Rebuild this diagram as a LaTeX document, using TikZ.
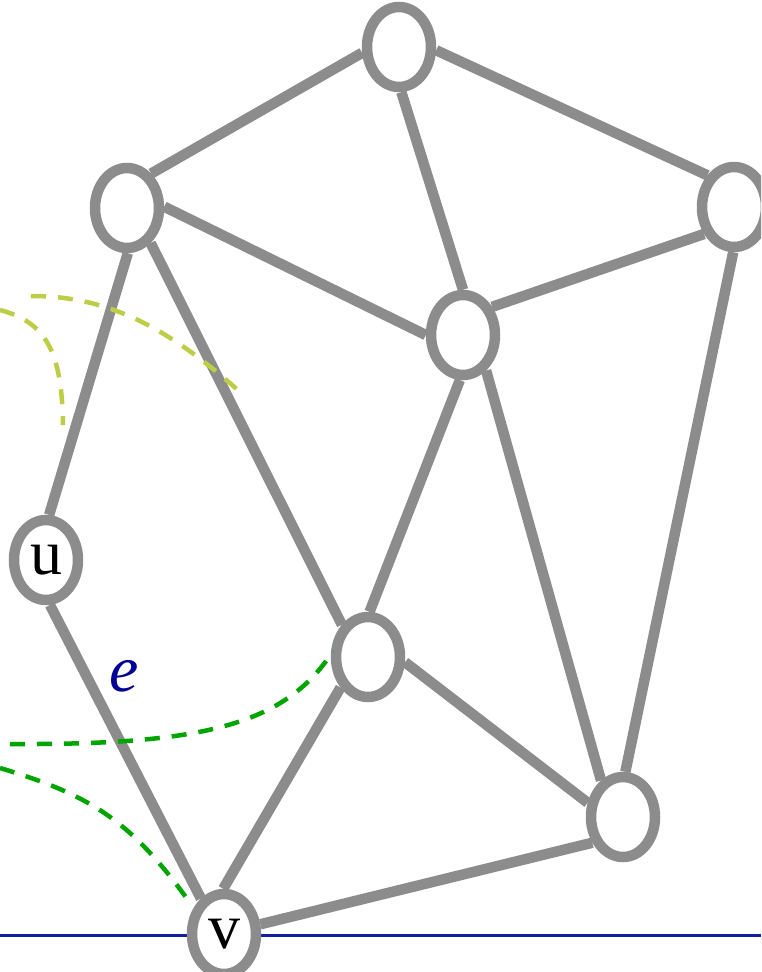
\documentclass[tikz,border=0pt]{standalone}
\usepackage{fontspec}
\setmainfont{Liberation Serif}
\usetikzlibrary{shapes.geometric}
\definecolor{edgegray}{RGB}{140,140,140}
\definecolor{lineblue}{RGB}{20,30,160}
\definecolor{labelblue}{RGB}{0,0,150}
\definecolor{ygreen}{RGB}{190,205,70}
\definecolor{dgreen}{RGB}{0,165,0}
\begin{document}
\begin{tikzpicture}[x=1pt,y=-1pt,
  vertex/.style={ellipse, draw=edgegray, line width=10.5pt, fill=white,
    minimum width=64pt, minimum height=80pt, inner sep=0pt,
    font=\fontsize{64}{64}\selectfont},
  edge/.style={draw=edgegray, line width=10.5pt},
  dashy/.style={line width=4.5pt, dash pattern=on 15pt off 12pt},
  baseline/.style={draw=lineblue, line width=3pt}]
\useasboundingbox (0,0) rectangle (761,972);
\clip (0,0) rectangle (761,972);
% base line
\coordinate (L) at (0,935);
\coordinate (R) at (761,935);
\draw[baseline] (L) -- (R);
% vertices
\node[vertex] (t) at (399,47) {};
\node[vertex] (ul) at (127,208) {};
\node[vertex] (r) at (734,207) {};
\node[vertex] (c) at (463,335) {};
\node[vertex] (u) at (46,560) {u};
\node[vertex] (m) at (368,657) {};
\node[vertex] (lr) at (623,817) {};
\node[vertex] (v) at (224,934) {v};
% edges
\draw[edge] (t.189) -- (ul.55);
\draw[edge] (t.-5) -- (r.130);
\draw[edge] (t.273) -- (c.90);
\draw[edge] (ul.2) -- (c.180);
\draw[edge] (ul.271) -- (u.86);
\draw[edge] (ul.-56) -- (m.129);
\draw[edge] (r.222) -- (c.44);
\draw[edge] (r.269) -- (lr.87);
\draw[edge] (c.266) -- (m.88);
\draw[edge] (c.-57) -- (lr.121);
\draw[edge] (u.275) -- (v.123);
\draw[edge] (m.228) -- (v.91);
\draw[edge] (m.-8) -- (lr.158);
\draw[edge] (lr.220) -- (v.15);
% label
\node[text=labelblue, font=\fontsize{66}{66}\selectfont\itshape, inner sep=0pt] (e) at (124,676) {e};
% dashed curves
\draw[dashy, draw=ygreen] (0,310) .. controls (45,322) and (62,350) .. (63,425);
\draw[dashy, draw=ygreen] (31,296) .. controls (100,296) and (160,320) .. (240,392);
\draw[dashy, draw=dgreen] (10,744) .. controls (200,745) and (285,726) .. (333,651);
\draw[dashy, draw=dgreen] (0,768) .. controls (90,795) and (130,820) .. (188,900);
\end{tikzpicture}
\end{document}
